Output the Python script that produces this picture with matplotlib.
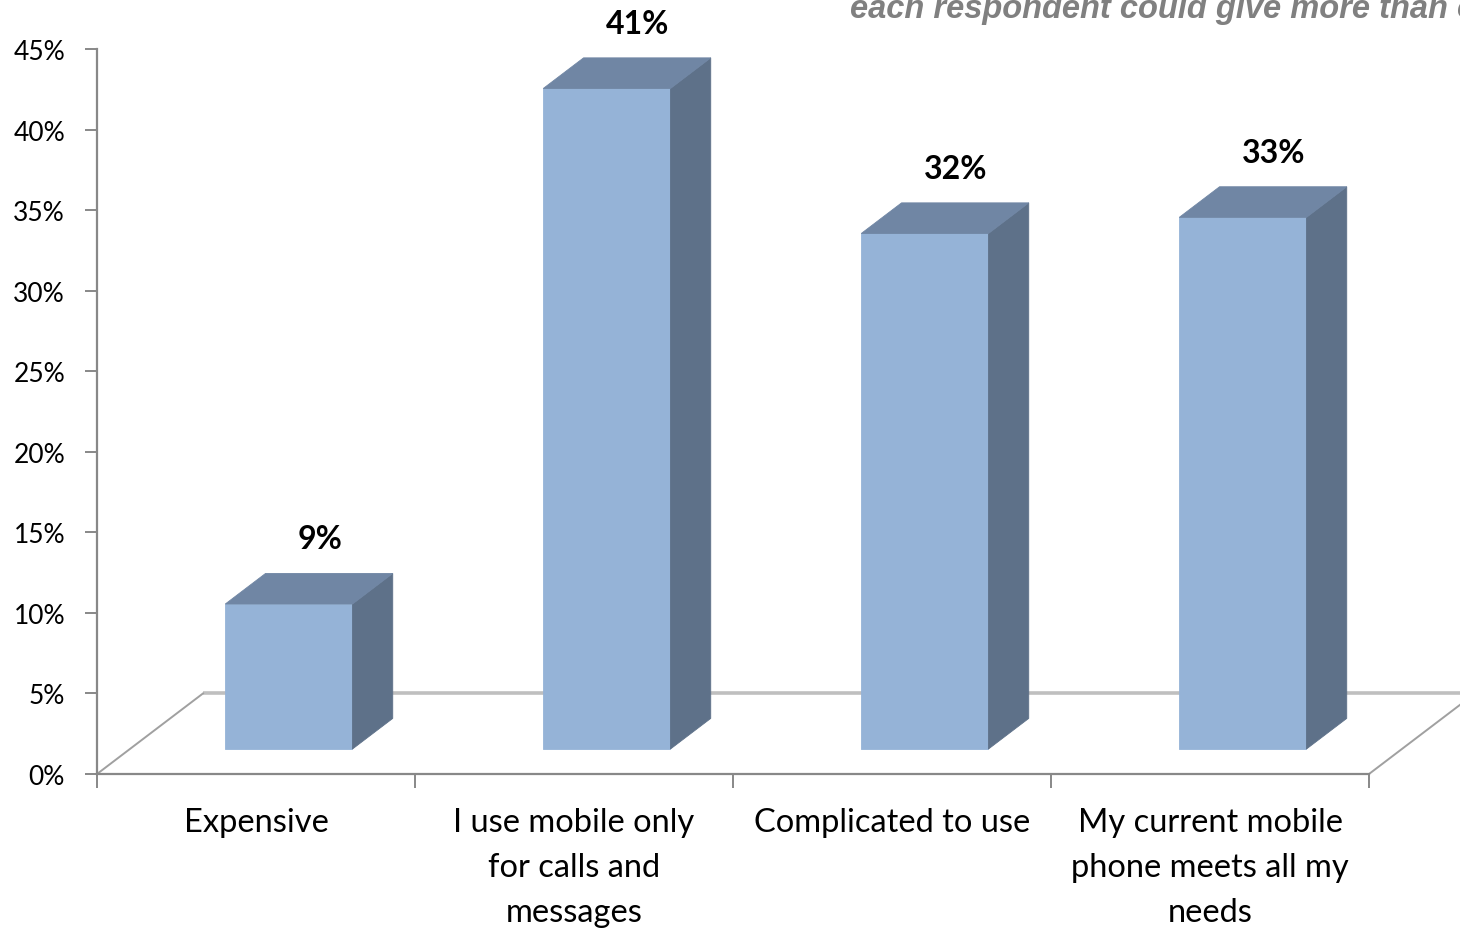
import matplotlib
matplotlib.use("Agg")
import matplotlib.pyplot as plt
from matplotlib.patches import Polygon

# Survey answers: reasons for not switching phone
categories = ["Expensive", "I use mobile only\nfor calls and\nmessages",
              "Complicated to use", "My current mobile\nphone meets all my\nneeds"]
values = [9, 41, 32, 33]
value_labels = ["9%", "41%", "32%", "33%"]
y_ticks = [0, 5, 10, 15, 20, 25, 30, 35, 40, 45]
y_tick_labels = ["0%", "5%", "10%", "15%", "20%", "25%", "30%", "35%", "40%", "45%"]
note = "each respondent could give more than one answer"

W, H = 1460, 929
fig = plt.figure(figsize=(W / 100, H / 100), dpi=100)
fig.patch.set_facecolor("white")

ax = fig.add_axes([97 / W, 1 - 775 / H, (1369 - 97) / W, (775 - 50) / H])
ax.set_xlim(-0.5, 3.5)
ax.set_ylim(0, 45)
ax.set_facecolor("none")

# pseudo-3D depth of the floor (in data units)
DX, DY = 1 / 3, 5.0
F0, F1 = 0.31, 0.69          # bar front/back position inside the depth
BW = 0.4                     # bar width

axis_col = "#888888"
front = "#95B3D7"
side = "#5E7189"
top = "#7086A4"

# floor outline
ax.plot([-0.5 + DX, 3.5 + DX], [DY, DY], color="#BFBFBF", lw=2.6,
        solid_capstyle="butt", clip_on=False, zorder=1)
ax.plot([-0.5, -0.5 + DX], [0, DY], color="#A0A0A0", lw=1.4, clip_on=False, zorder=1)
ax.plot([3.5, 3.5 + DX], [0, DY], color="#A0A0A0", lw=1.4, clip_on=False, zorder=1)

for i, v in enumerate(values):
    xl = i - BW / 2 + F0 * DX
    xr = xl + BW
    yb = F0 * DY
    yt = yb + v
    ddx = (F1 - F0) * DX
    ddy = (F1 - F0) * DY
    faces = [
        ([(xl, yb), (xr, yb), (xr, yt), (xl, yt)], front),
        ([(xr, yb), (xr + ddx, yb + ddy), (xr + ddx, yt + ddy), (xr, yt)], side),
        ([(xl, yt), (xr, yt), (xr + ddx, yt + ddy), (xl + ddx, yt + ddy)], top),
    ]
    for pts, col in faces:
        ax.add_patch(Polygon(pts, closed=True, facecolor=col, edgecolor=col,
                             lw=0.6, zorder=3, clip_on=False))
    ax.text(i + 0.2, v + 5.6, value_labels[i], ha="center", va="center",
            fontsize=23, fontweight="bold", family="Lato", color="black",
            clip_on=False, zorder=4)

# axes styling
for s in ["top", "right"]:
    ax.spines[s].set_visible(False)
for s in ["left", "bottom"]:
    ax.spines[s].set_color(axis_col)
    ax.spines[s].set_linewidth(1.6)
    ax.spines[s].set_zorder(2)

ax.set_yticks(y_ticks, y_tick_labels)
ax.tick_params(axis="y", direction="out", length=9, width=1.4, color=axis_col,
               pad=14, labelsize=19, labelcolor="black")
for lab in ax.get_yticklabels():
    lab.set_family("Lato")

ax.set_xticks([-0.5, 0.5, 1.5, 2.5, 3.5], ["", "", "", "", ""])
ax.tick_params(axis="x", which="major", direction="out", length=10, width=1.4,
               color=axis_col)
ax.set_xticks([0, 1, 2, 3], categories, minor=True)
ax.tick_params(axis="x", which="minor", length=0, pad=24, labelsize=23.5,
               labelcolor="black")
for lab in ax.get_xticklabels(minor=True):
    lab.set_family("Lato")
    lab.set_linespacing(1.62)
    lab.set_ha("center")
    lab.set_va("top")

fig.text(850 / W, 1 - 18 / H, note, ha="left", va="baseline", fontsize=23.5,
         fontweight="bold", fontstyle="italic", family="Liberation Sans",
         color="#808080")

fig.savefig("out.png", dpi=100, facecolor="white")
